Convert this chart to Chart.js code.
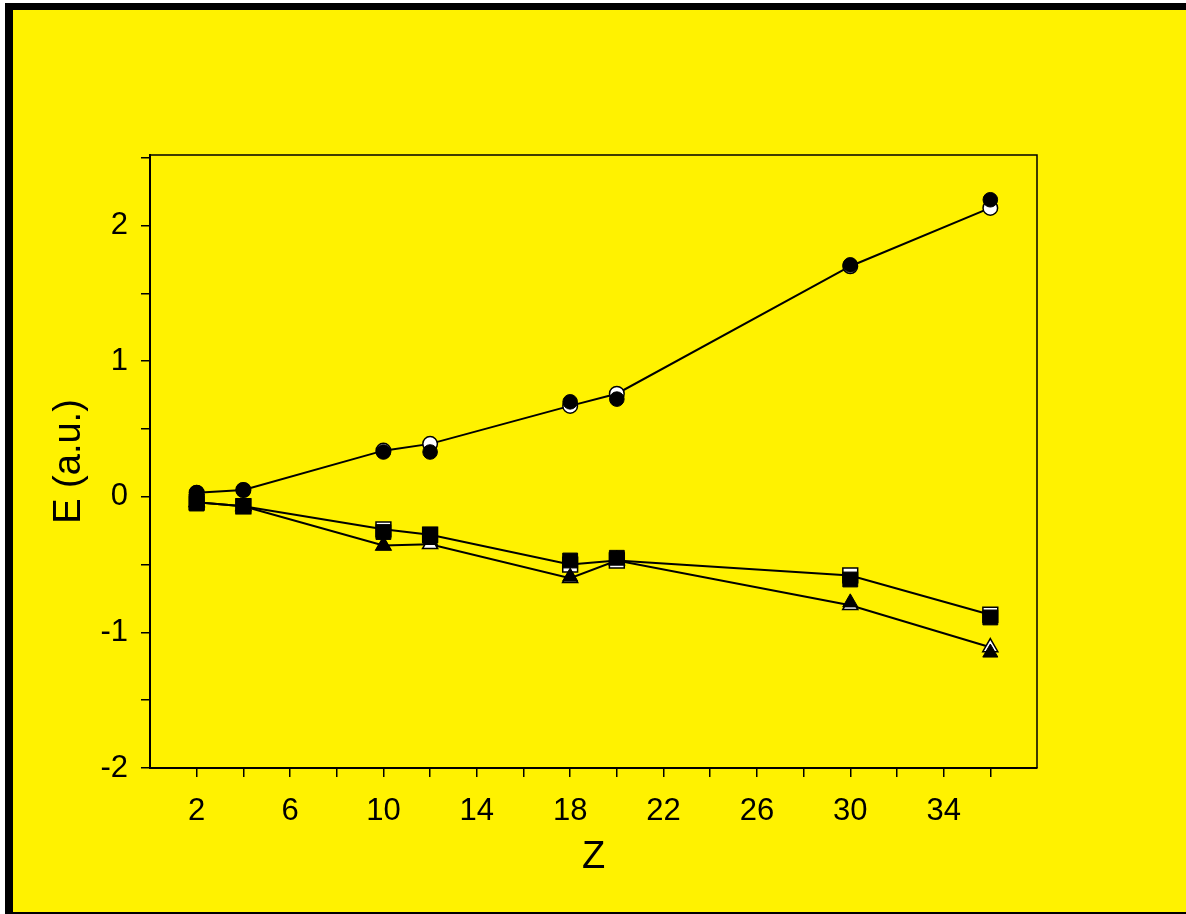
<!DOCTYPE html>
<html>
<head>
<meta charset="utf-8">
<script src="https://cdn.jsdelivr.net/npm/chart.js@4"></script>
<style>
  html, body { margin: 0; padding: 0; background: #fff; }
  #wrap { width: 1186px; height: 914px; }
</style>
</head>
<body>
<div id="wrap"><canvas id="energy" width="1186" height="914"></canvas></div>
<script>
// atomic number Z
const zValues = [2, 4, 10, 12, 18, 20, 30, 36];

// energies (a.u.), open symbols are joined by lines, filled ones are not
const circleOpen = [0.03, 0.05, 0.34, 0.39, 0.67, 0.76, 1.70, 2.13];
const circleFilled = [0.03, 0.05, 0.33, 0.33, 0.70, 0.72, 1.71, 2.19];
const squareOpen = [-0.04, -0.07, -0.24, -0.28, -0.50, -0.47, -0.58, -0.87];
const squareFilled = [-0.05, -0.07, -0.26, -0.28, -0.47, -0.45, -0.61, -0.89];
const triangleOpen = [-0.04, -0.07, -0.36, -0.35, -0.60, -0.47, -0.80, -1.11];
const triangleFilled = [-0.04, -0.07, -0.36, -0.32, -0.59, -0.46, -0.78, -1.15];

// axis ticks
const xTickValues = [2, 4, 6, 8, 10, 12, 14, 16, 18, 20, 22, 24, 26, 28, 30, 32, 34, 36];
const xTickLabels = ['2', '', '6', '', '10', '', '14', '', '18', '', '22', '', '26', '', '30', '', '34', ''];
const yTickValues = [-2, -1.5, -1, -0.5, 0, 0.5, 1, 1.5, 2, 2.5];
const yTickLabels = ['-2', '', '-1', '', '0', '', '1', '', '2', ''];

function pts(ys) {
  return zValues.map((z, i) => ({x: z, y: ys[i]}));
}

function filled(ys, style, r) {
  return {
    data: pts(ys), showLine: false, pointStyle: style, pointRadius: r, pointHoverRadius: r,
    pointBackgroundColor: '#000', pointBorderColor: '#000', pointBorderWidth: 1
  };
}

function open(ys, style, r) {
  return {
    data: pts(ys), showLine: true, borderColor: '#000', borderWidth: 2,
    pointStyle: style, pointRadius: r, pointHoverRadius: r,
    pointBackgroundColor: '#fff', pointBorderColor: '#000', pointBorderWidth: 1.5
  };
}

// yellow page with the black edge, and the box round the plot
const frame = {
  id: 'frame',
  beforeDraw(chart) {
    const {ctx, width, height} = chart;
    ctx.save();
    ctx.fillStyle = '#fff';
    ctx.fillRect(0, 0, width, height);
    ctx.fillStyle = '#000';
    ctx.fillRect(5, 3, width - 5, height - 3);
    ctx.fillStyle = '#fff200';
    ctx.fillRect(13, 10, width - 13, height - 12);
    ctx.restore();
  },
  afterDraw(chart) {
    const a = chart.chartArea;
    const ctx = chart.ctx;
    ctx.save();
    ctx.strokeStyle = '#000';
    ctx.lineWidth = 1.5;
    ctx.beginPath();
    ctx.moveTo(a.left, a.top);
    ctx.lineTo(a.right, a.top);
    ctx.lineTo(a.right, a.bottom);
    ctx.stroke();
    ctx.restore();
  }
};

const fontFamily = 'Liberation Sans, Arial, sans-serif';

const ctx = document.getElementById('energy').getContext('2d');
new Chart(ctx, {
  type: 'scatter',
  data: {
    datasets: [
      // filled first so they sit on top
      filled(circleFilled, 'circle', 7.3),
      filled(squareFilled, 'rect', 10.5),
      filled(triangleFilled, 'triangle', 8.7),
      open(circleOpen, 'circle', 7.3),
      open(squareOpen, 'rect', 10.5),
      open(triangleOpen, 'triangle', 8.7)
    ]
  },
  options: {
    responsive: false,
    animation: false,
    events: [],
    layout: { padding: { top: 155, right: 149, left: 0, bottom: 0 } },
    plugins: { legend: { display: false }, tooltip: { enabled: false } },
    scales: {
      x: {
        type: 'linear', min: 0, max: 38,
        afterBuildTicks: s => { s.ticks = xTickValues.map(v => ({value: v})); },
        afterFit: s => { s.height = 146; },
        grid: { drawOnChartArea: false, drawTicks: true, tickLength: 9, color: '#000', lineWidth: 1.5 },
        border: { display: true, color: '#000', width: 2 },
        ticks: {
          autoSkip: false, maxRotation: 0, padding: 16, color: '#000',
          font: { family: fontFamily, size: 31 },
          callback: (v, i) => xTickLabels[i]
        },
        title: {
          display: true, text: 'Z', color: '#000',
          font: { family: fontFamily, size: 38 },
          padding: { top: 0, bottom: 34 }
        }
      },
      y: {
        type: 'linear', min: -2, max: 2.52,
        afterBuildTicks: s => { s.ticks = yTickValues.map(v => ({value: v})); },
        afterFit: s => { s.width = 150; },
        grid: { drawOnChartArea: false, drawTicks: true, tickLength: 9, color: '#000', lineWidth: 1.5 },
        border: { display: true, color: '#000', width: 2 },
        ticks: {
          autoSkip: false, padding: 13, color: '#000',
          font: { family: fontFamily, size: 31 },
          callback: (v, i) => yTickLabels[i]
        },
        title: {
          display: true, text: 'E (a.u.)', color: '#000',
          font: { family: fontFamily, size: 38 },
          padding: { top: 47, bottom: 0 }
        }
      }
    }
  },
  plugins: [frame]
});
</script>
</body>
</html>
